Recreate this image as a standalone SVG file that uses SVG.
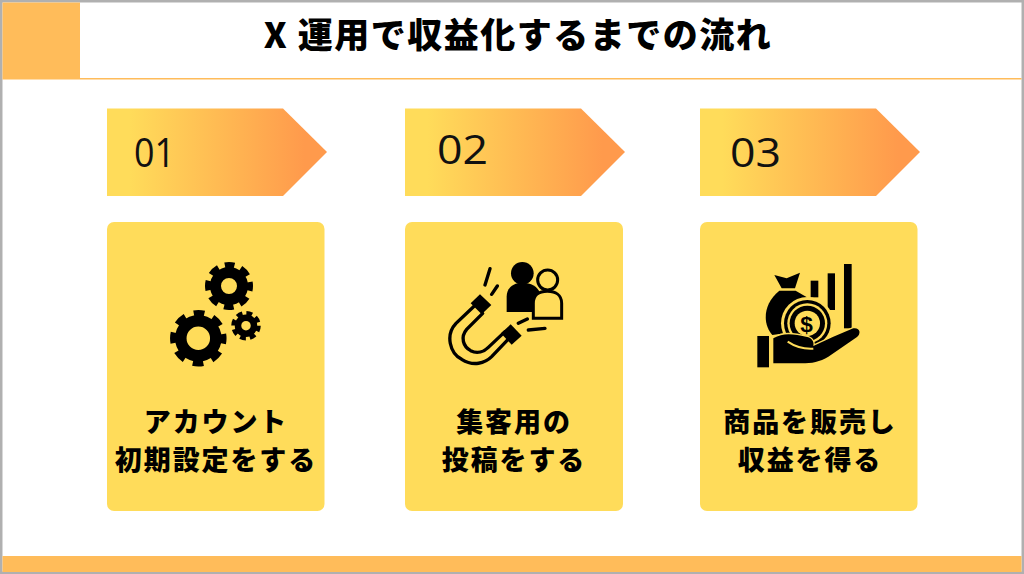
<svg xmlns="http://www.w3.org/2000/svg" width="1024" height="574" viewBox="0 0 1024 574">
<style>
.ja{font-family:"Noto Sans CJK JP","Noto Sans",sans-serif;font-weight:900;fill:#000;text-anchor:middle}
.lb{font-size:27px;letter-spacing:1.9px}
.num{font-family:"Open Sans","Liberation Sans",sans-serif;font-size:40px;font-weight:400;fill:#111}
.card{fill:#ffdc5a}
.ln{fill:none;stroke:#000;stroke-width:10;stroke-linecap:round}
</style>
<defs>
<linearGradient id="g" x1="0" y1="0" x2="1" y2="0"><stop offset="0.1" stop-color="#ffdc5a"/><stop offset="0.9" stop-color="#ff9a4c"/></linearGradient>
</defs>
<rect width="1024" height="574" fill="#b0b0b0"/>
<rect x="2.500" y="2.500" width="1019" height="569" fill="#fff"/>
<g id="header">
<rect x="2.500" y="2.500" width="77.500" height="77" fill="#ffbc5a"/>
<rect x="80" y="78" width="941.500" height="1.500" fill="#ffbc5a"/>
<text class="ja" x="518" y="48" font-size="35" letter-spacing="1.500">X 運用で収益化するまでの流れ</text>
</g>
<rect id="footer" x="2.500" y="556" width="1019" height="16" fill="#ffbc5a"/>
<g id="step1">
<polygon points="107,108.500 283,108.500 327,152 283,196 107,196" fill="url(#g)"/>
<text class="num" x="134" y="167" textLength="41" lengthAdjust="spacingAndGlyphs">01</text>
<rect class="card" x="107" y="222" width="217.500" height="289" rx="7"/>
<g id="gears" fill="none" stroke="#000">
<circle cx="198.300" cy="338.300" r="17.500" stroke-width="11.500"/>
<circle cx="198.300" cy="338.300" r="24.500" stroke-width="7.500" stroke-dasharray="10.500 8.740" stroke-dashoffset="5.250"/>
<circle cx="229" cy="286" r="13.500" stroke-width="11"/>
<circle cx="229" cy="286" r="20.500" stroke-width="7" stroke-dasharray="9.500 6.600" stroke-dashoffset="4.750"/>
<circle cx="246" cy="325.700" r="8" stroke-width="6.500"/>
<circle cx="246" cy="325.700" r="12.500" stroke-width="4.500" stroke-dasharray="5.800 4.020" stroke-dashoffset="0"/>
</g>
<text class="ja lb" x="216" y="432">アカウント</text>
<text class="ja lb" x="216" y="470">初期設定をする</text>
</g>
<g id="step2">
<polygon points="405,108.500 581,108.500 625,152 581,196 405,196" fill="url(#g)"/>
<text class="num" x="437" y="164" textLength="51" lengthAdjust="spacingAndGlyphs">02</text>
<rect class="card" x="405" y="222" width="218" height="289" rx="7"/>
<g id="magnet" transform="translate(440 250) scale(.3333)">
<circle cx="247" cy="70" r="34"/>
<path d="M200 186V140C200 112 222 98 247 98C272 98 295 110 300 130L290 186Z"/>
<circle cx="323" cy="90" r="30" fill="#ffdc5a" stroke="#000" stroke-width="9"/>
<path d="M280 205V160C280 135 298 124 322 124C346 124 365 135 365 160V205Z" fill="#ffdc5a" stroke="#000" stroke-width="9"/>
<path class="ln" d="M103 168L48 220C15 255 30 310 65 328C100 350 135 340 155 320L210 262"/>
<path class="ln" d="M128 190L80 238C60 262 70 290 92 302C112 312 132 305 145 292L195 245"/>
<polygon points="120,133 154,165 125,193 92,160"/>
<polygon points="212,223 245,257 215,284 183,250"/>
<path class="ln" d="M150 56L135 105M172 108L155 133M262 207L235 220M315 235L265 240"/>
</g>
<text class="ja lb" x="514" y="432">集客用の</text>
<text class="ja lb" x="514" y="470">投稿をする</text>
</g>
<g id="step3">
<polygon points="700,108.500 876,108.500 920,152 876,196 700,196" fill="url(#g)"/>
<text class="num" x="730" y="167" textLength="51" lengthAdjust="spacingAndGlyphs">03</text>
<rect class="card" x="700" y="222" width="217.500" height="289" rx="7"/>
<g id="money" transform="translate(745 250) scale(.3333)">
<rect x="197" y="92" width="23" height="50"/>
<rect x="248" y="70" width="22" height="110"/>
<rect x="297" y="42" width="23" height="193"/>
<path d="M88 75L125 85L165 68L150 115H110Z"/>
<path d="M103 122H152L200 150L120 250L82 255C55 225 50 165 103 122Z"/>
<circle cx="187" cy="220" r="79" fill="#ffdc5a"/>
<circle cx="187" cy="220" r="70" fill="#000"/>
<circle cx="187" cy="220" r="60" fill="#ffdc5a"/>
<circle cx="187" cy="220" r="53" fill="#000"/>
<circle cx="187" cy="220" r="38" fill="#ffdc5a"/>
<text x="185" y="246" font-family="Liberation Sans,sans-serif" font-weight="700" font-size="68" text-anchor="middle">$</text>
<rect x="37" y="258" width="35" height="94"/>
<path d="M85 265C115 248 140 250 190 262C205 268 207 280 205 288L265 260L325 235C345 232 350 250 335 262L250 320C225 335 200 340 170 340H85Z" stroke="#ffdc5a" stroke-width="8" paint-order="stroke"/>
<path d="M128 275C150 290 170 298 205 296" fill="none" stroke="#ffdc5a" stroke-width="6"/>
</g>
<text class="ja lb" x="810" y="432">商品を販売し</text>
<text class="ja lb" x="810" y="470">収益を得る</text>
</g>
</svg>
